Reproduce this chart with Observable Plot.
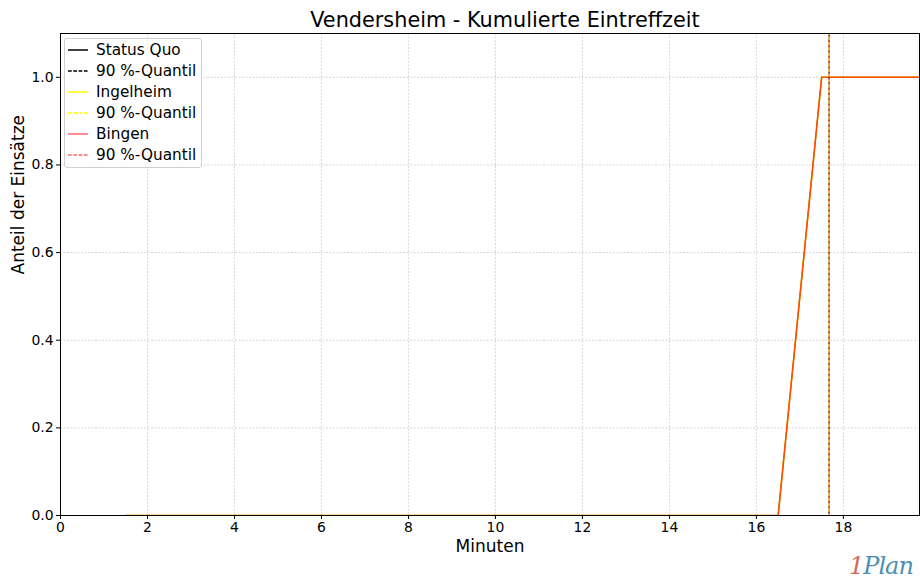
<!DOCTYPE html>
<html><head><meta charset="utf-8">
<script src="https://cdn.jsdelivr.net/npm/d3@7"></script>
<script src="https://cdn.jsdelivr.net/npm/@observablehq/plot@0.6"></script>
<style>
body{margin:0;background:#fff;font-family:"DejaVu Sans",sans-serif;}
#wrap{position:relative;width:920px;height:581px;overflow:hidden;}
#title{position:absolute;left:0;width:1010px;top:8px;text-align:center;font-size:20.8px;color:#000;}
#legend{position:absolute;left:64px;top:38px;width:136px;height:128px;border:1px solid #d0d0d0;border-radius:3px;background:rgba(255,255,255,0.8);}
.row{position:absolute;left:0;height:20px;font-size:15.3px;line-height:20px;}
.row svg{position:absolute;left:3px;top:0;}
.row span{position:absolute;left:31px;white-space:nowrap;}
#logo{position:absolute;left:849px;top:552px;font-size:24px;line-height:28px;font-style:italic;font-family:"DejaVu Serif",serif;letter-spacing:-1px;}
</style></head><body>
<div id="wrap"><div id="title">Vendersheim - Kumulierte Eintreffzeit</div><div id="chart"></div><div id="legend"></div>
<div id="logo"><span style="color:#d06a5e">1</span><span style="color:#4d8fb3">Plan</span></div></div>
<script>
const minutes = [1.5, 16.5, 17.5, 20];
const statusQuo = [0, 0, 1, 1];
const ingelheim = [0, 0, 1, 1];
const bingen = [0, 0, 1, 1];
const quantile90 = {statusQuo: 17.67, ingelheim: 17.67, bingen: 17.67};
const xTicks = [0, 2, 4, 6, 8, 10, 12, 14, 16, 18];
const yTicks = [0, 0.2, 0.4, 0.6, 0.8, 1.0];
const series = [
  {name: "Status Quo", values: statusQuo, q: quantile90.statusQuo, color: "#000000", op: 1, w: 1.0, off: 0},
  {name: "Ingelheim", values: ingelheim, q: quantile90.ingelheim, color: "#ffff00", op: 1, w: 1.6, off: 1.8},
  {name: "Bingen", values: bingen, q: quantile90.bingen, color: "#ff0000", op: 0.7, w: 1.6, off: 3.6}
];
const marks = [
  Plot.gridX(xTicks, {stroke: "#b0b0b0", strokeOpacity: 0.5, strokeDasharray: "2,1.5"}),
  Plot.gridY(yTicks, {stroke: "#b0b0b0", strokeOpacity: 0.5, strokeDasharray: "2,1.5"})
];
for (const s of series) {
  const data = minutes.map((m, i) => ({x: m, y: s.values[i]}));
  marks.push(Plot.line(data, {x: "x", y: "y", stroke: s.color, strokeOpacity: s.op, strokeWidth: s.w, clip: true}));
}
for (const s of series) {
  marks.push(Plot.ruleX([s.q], {stroke: s.color, strokeOpacity: s.op, strokeWidth: 1, strokeDasharray: "3.7,1.6", strokeDashoffset: s.off}));
}
marks.push(Plot.frame({stroke: "#000", strokeWidth: 1}));
marks.push(Plot.axisX(xTicks, {tickSize: 4, fontSize: 13.9, tickPadding: 3, label: null}));
marks.push(Plot.axisY(yTicks, {tickSize: 4, fontSize: 13.9, tickFormat: d3.format(".1f"), tickPadding: 3, label: null}));
const chart = Plot.plot({
  width: 920, height: 581,
  marginLeft: 60, marginRight: 1, marginTop: 33, marginBottom: 66,
  style: {fontFamily: "DejaVu Sans, sans-serif", color: "#000", background: "#fff"},
  x: {domain: [0, 19.75]},
  y: {domain: [0, 1.1]},
  marks: [
    ...marks,
    Plot.text(["Minuten"], {frameAnchor: "bottom", lineAnchor: "middle", dy: 31, fontSize: 17, fill: "#000"}),
    Plot.text(["Anteil der Einsätze"], {frameAnchor: "left", lineAnchor: "middle", dx: -42, rotate: -90, fontSize: 17, fill: "#000"})
  ]
});
document.getElementById("chart").appendChild(chart);
const leg = document.getElementById("legend");
const entries = [];
for (const s of series) {
  entries.push({label: s.name, color: s.color, op: s.color === "#ff0000" ? 0.6 : 1, dash: null});
  entries.push({label: "90 %-Quantil", color: s.color, op: s.color === "#ff0000" ? 0.6 : 1, dash: "3.7,1.6"});
}
entries.forEach((e, i) => {
  const r = document.createElement("div");
  r.className = "row";
  r.style.top = (1 + i * 21) + "px";
  r.innerHTML = `<svg width="22" height="20"><line x1="0" x2="20" y1="10" y2="10" stroke="${e.color}" stroke-opacity="${e.op}" stroke-width="1.5" ${e.dash ? `stroke-dasharray="${e.dash}"` : ""}/></svg><span>${e.label}</span>`;
  leg.appendChild(r);
});
</script></body></html>
